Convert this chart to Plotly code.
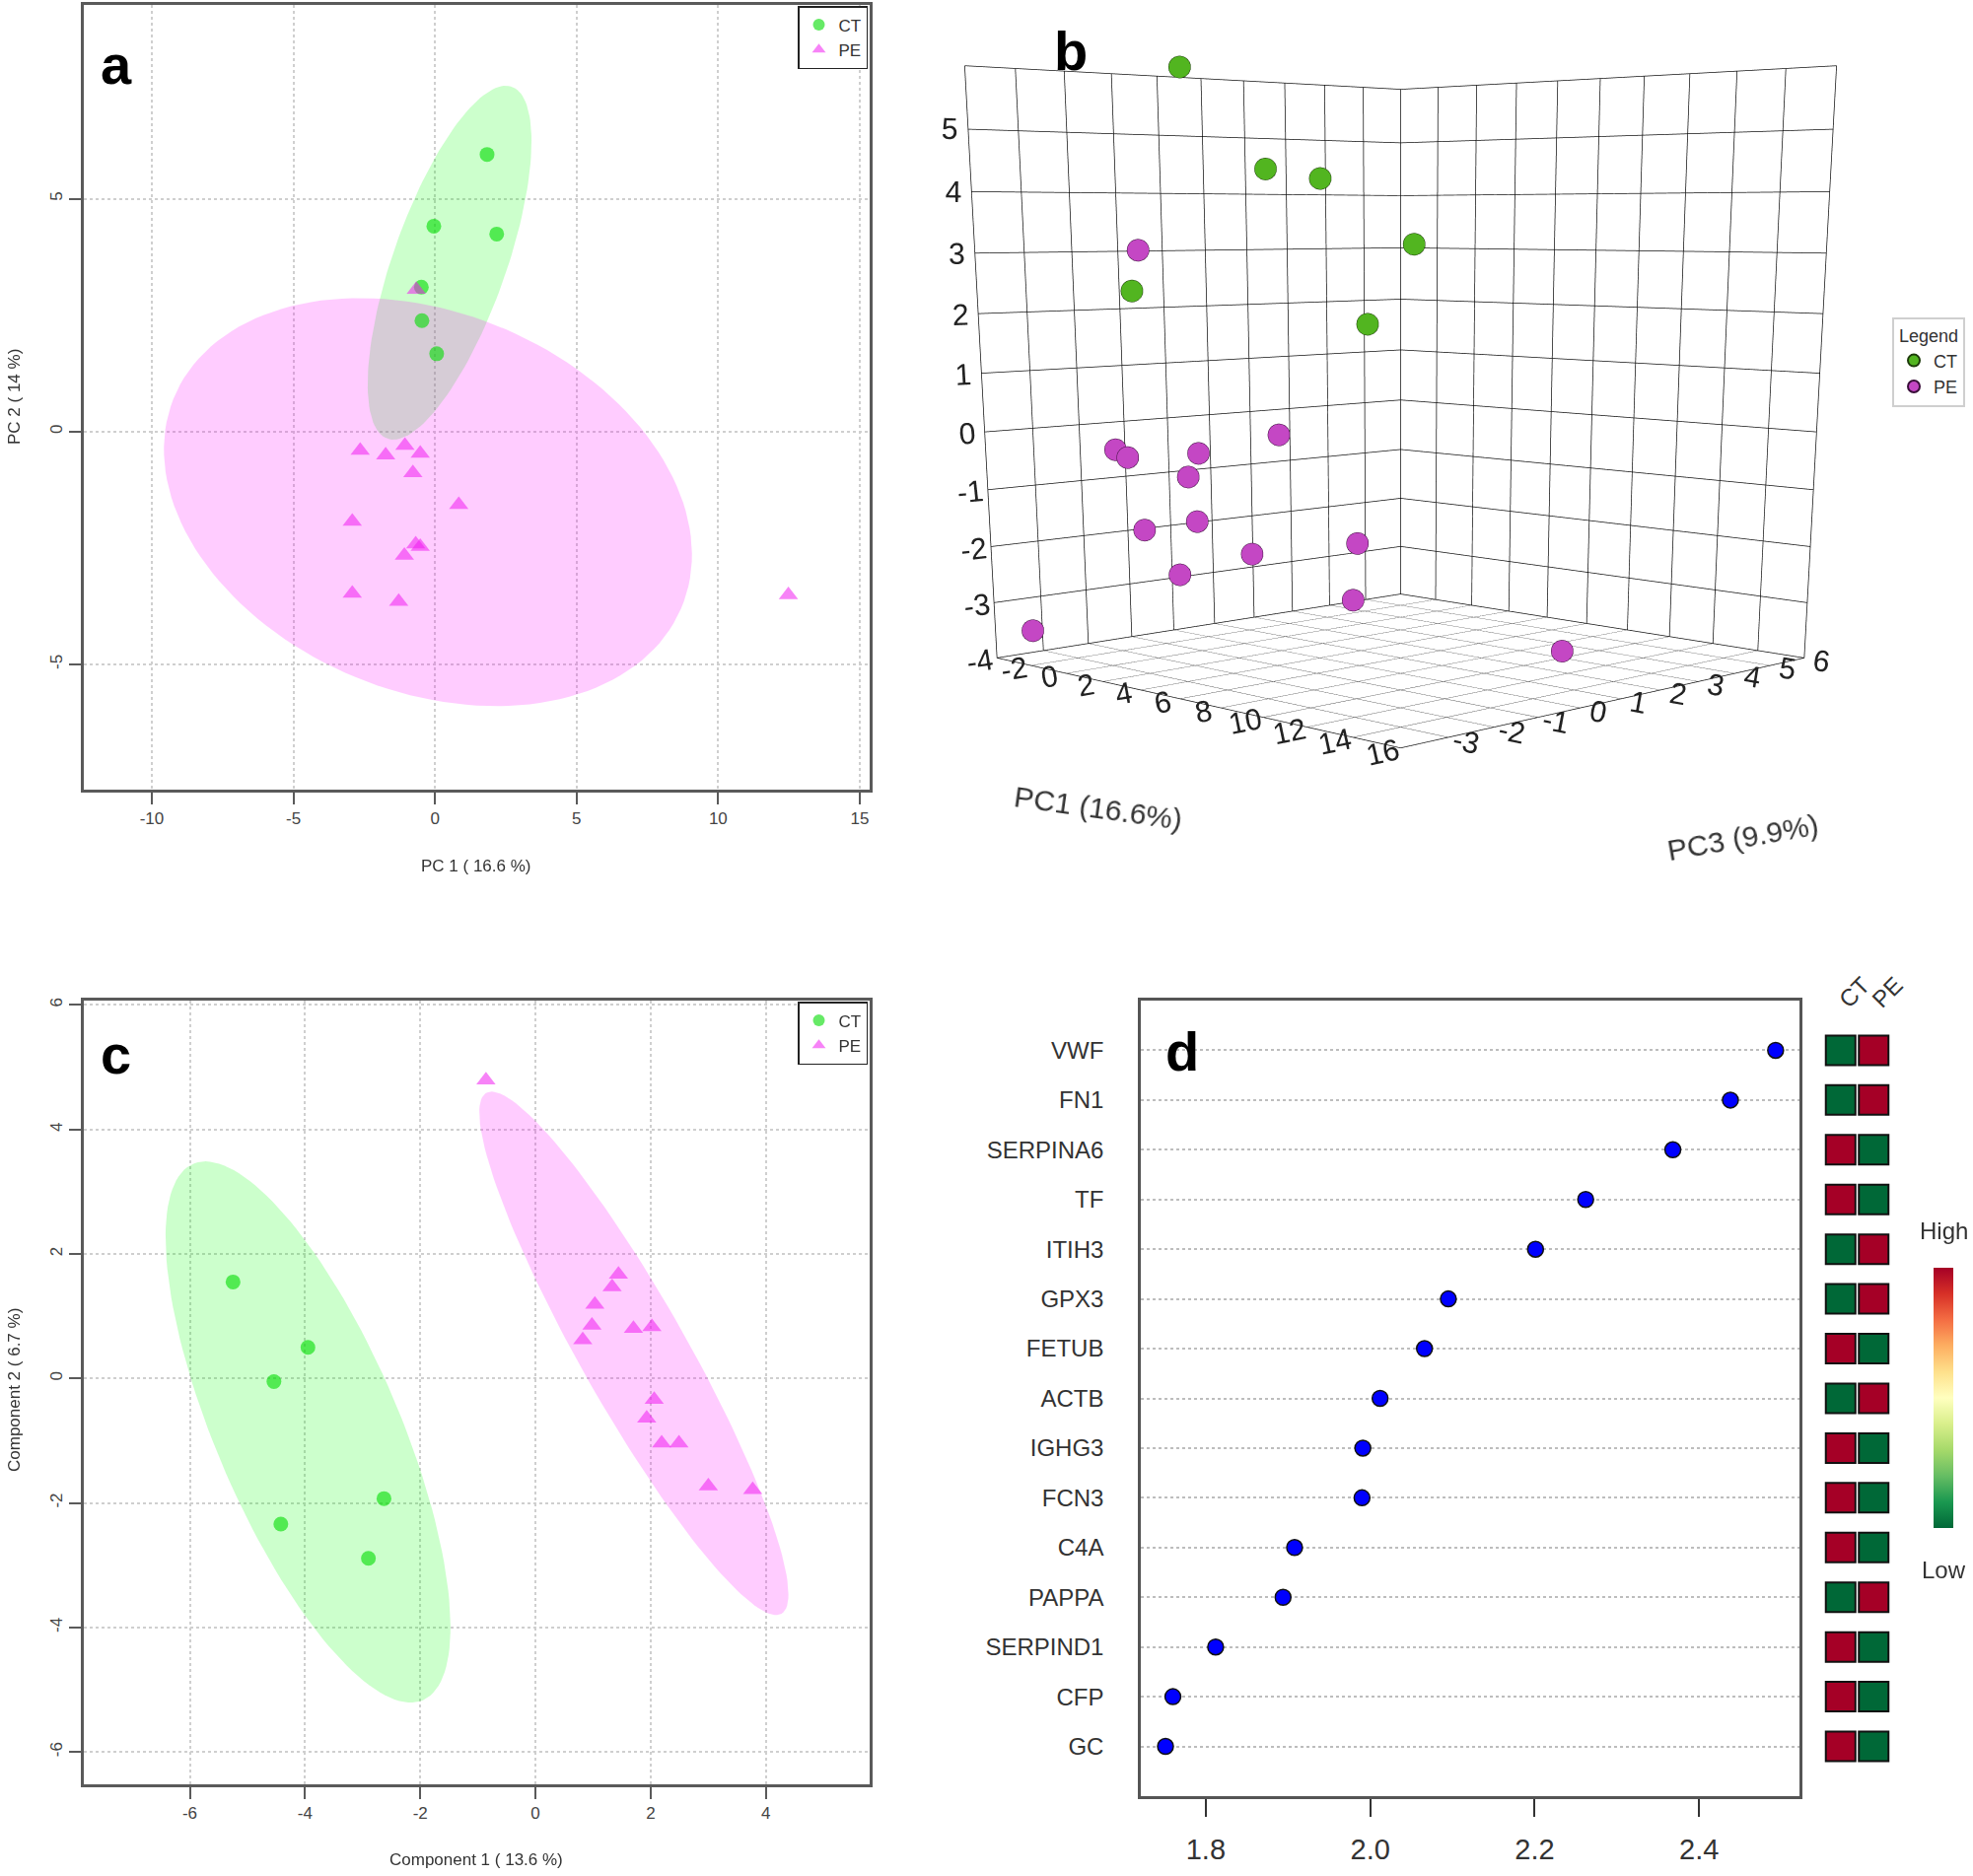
import numpy as np
import plotly.graph_objects as go
import plotly.express as px

W, H = 2001, 1903
FONT = "Liberation Sans, Arial, sans-serif"

# panel a: PCA scores, PC1 / PC2
a_ct_pc1 = [1.84, -0.04, 2.18, -0.48, -0.46, 0.06]
a_ct_pc2 = [5.95, 4.41, 4.24, 3.10, 2.38, 1.67]
a_pe_pc1 = [-0.66, -2.64, -1.74, -1.06, -0.52, -0.78, 0.84, -2.92, -0.68, -0.52, -1.08, -2.92, -1.28, 12.48]
a_pe_pc2 = [3.05, -0.41, -0.51, -0.30, -0.47, -0.89, -1.57, -1.93, -2.42, -2.47, -2.66, -3.48, -3.65, -3.51]

# panel b: PC3 of the same samples (same order as panel a)
b_ct_pc3 = [-1.92, 0.72, 0.97, 4.59, -2.13, 3.11]
b_pe_pc3 = [-1.89, -1.75, -1.84, 1.39, -0.75, -0.89, -1.39, -1.05, 0.52, 3.10, -1.02, -3.60, 3.34, 1.56]

# panel c: PLS-DA scores
c_ct_comp1 = [-5.25, -3.95, -4.54, -2.63, -4.42, -2.90]
c_ct_comp2 = [1.55, 0.50, -0.05, -1.93, -2.34, -2.89]
c_pe_comp1 = [-0.86, 1.44, 1.33, 1.03, 0.98, 0.82, 1.70, 2.02, 2.06, 1.93, 2.19, 2.49, 3.00, 3.77]
c_pe_comp2 = [4.79, 1.67, 1.47, 1.19, 0.85, 0.62, 0.80, 0.83, -0.34, -0.64, -1.04, -1.04, -1.73, -1.79]

# panel d: VIP scores, top to bottom
genes = ["VWF", "FN1", "SERPINA6", "TF", "ITIH3", "GPX3", "FETUB", "ACTB",
         "IGHG3", "FCN3", "C4A", "PAPPA", "SERPIND1", "CFP", "GC"]
vip = [2.493, 2.438, 2.368, 2.262, 2.201, 2.095, 2.066, 2.012,
       1.991, 1.990, 1.908, 1.894, 1.812, 1.760, 1.751]
ct_level = [0, 0, 1, 1, 0, 0, 1, 0, 1, 1, 1, 0, 1, 1, 1]
pe_level = [1, 1, 0, 0, 1, 1, 0, 1, 0, 0, 0, 1, 0, 0, 0]


def px_x(p):
    return p / W


def px_y(p):
    return 1 - p / H


def conf_ellipse(x, y, t=2.4477, n=150):
    x = np.asarray(x, float)
    y = np.asarray(y, float)
    vals, vecs = np.linalg.eigh(np.cov(x, y))
    ang = np.linspace(0, 2 * np.pi, n)
    circ = np.vstack([np.cos(ang), np.sin(ang)])
    pts = t * vecs @ (np.sqrt(vals)[:, None] * circ)
    return x.mean() + pts[0], y.mean() + pts[1]


fig = go.Figure()

ct_pt = "rgba(0,220,0,0.6)"
pe_pt = "rgba(240,30,240,0.55)"

for cts, ctv, pes, pev, xa, ya, lg in [
    (a_ct_pc1, a_ct_pc2, a_pe_pc1, a_pe_pc2, "x", "y", "legend"),
    (c_ct_comp1, c_ct_comp2, c_pe_comp1, c_pe_comp2, "x2", "y2", "legend2"),
]:
    ex, ey = conf_ellipse(cts, ctv)
    fig.add_trace(go.Scatter(x=ex, y=ey, mode="lines", fill="toself", line=dict(width=0),
                             fillcolor="rgba(0,255,0,0.2)", xaxis=xa, yaxis=ya,
                             showlegend=False, hoverinfo="skip"))
    ex, ey = conf_ellipse(pes, pev)
    fig.add_trace(go.Scatter(x=ex, y=ey, mode="lines", fill="toself", line=dict(width=0),
                             fillcolor="rgba(255,0,255,0.2)", xaxis=xa, yaxis=ya,
                             showlegend=False, hoverinfo="skip"))
    fig.add_trace(go.Scatter(x=cts, y=ctv, mode="markers", name="CT", legend=lg,
                             marker=dict(symbol="circle", size=15, color=ct_pt),
                             xaxis=xa, yaxis=ya))
    fig.add_trace(go.Scatter(x=pes, y=pev, mode="markers", name="PE", legend=lg,
                             marker=dict(symbol="triangle-up", size=17, color=pe_pt),
                             xaxis=xa, yaxis=ya))

# panel b: 3D scores
fig.add_trace(go.Scatter3d(x=a_ct_pc1, y=b_ct_pc3, z=a_ct_pc2, mode="markers", name="CT",
                           legend="legend3",
                           marker=dict(size=13, color="#52b520", line=dict(color="#1c3a0a", width=1.5))))
fig.add_trace(go.Scatter3d(x=a_pe_pc1, y=b_pe_pc3, z=a_pe_pc2, mode="markers", name="PE",
                           legend="legend3",
                           marker=dict(size=13, color="#c447c4", line=dict(color="#3a0f3a", width=1.5))))

# panel d: VIP dot plot
rows = list(range(len(genes), 0, -1))
fig.add_trace(go.Scatter(x=vip, y=rows, mode="markers", showlegend=False,
                         marker=dict(size=16, color="#0000ff", line=dict(color="#111", width=1.5)),
                         xaxis="x3", yaxis="y3"))

scale = px.colors.diverging.RdYlGn[::-1]
fig.add_trace(go.Scatter(
    x=[0] * len(genes) + [1] * len(genes), y=rows + rows, mode="markers", showlegend=False,
    marker=dict(symbol="square", size=30, color=ct_level + pe_level, cmin=0, cmax=1,
                colorscale=[[i / (len(scale) - 1), c] for i, c in enumerate(scale)],
                line=dict(color="#111", width=2), showscale=True,
                colorbar=dict(x=px_x(1971), xanchor="center", y=px_y(1418), yanchor="middle",
                              len=284 / H, thickness=20, showticklabels=False, ticks="",
                              outlinewidth=0)),
    xaxis="x4", yaxis="y4"))

frame = dict(showline=True, mirror=True, linecolor="#5a5a5a", linewidth=2.5, zeroline=False,
             ticks="outside", ticklen=12, tickwidth=2, tickcolor="#5a5a5a",
             tickfont=dict(size=17, color="#444", family=FONT))
grid = dict(showgrid=True, griddash="dot", gridcolor="#cfcfcf", gridwidth=1.5)


def labels(vals):
    return [str(v) for v in vals]


xa_ticks = [-10, -5, 0, 5, 10, 15]
ya_ticks = [-5, 0, 5]
xc_ticks = [-6, -4, -2, 0, 2, 4]
yc_ticks = [-6, -4, -2, 0, 2, 4, 6]

axis3d = dict(title=dict(text=""), showbackground=False, gridcolor="#111", gridwidth=1.5,
              zeroline=False, showline=True, linecolor="#111", linewidth=1.5,
              showspikes=False, tickfont=dict(size=19, color="#222", family=FONT))

fig.update_layout(
    width=W, height=H, margin=dict(l=0, r=0, t=0, b=0, autoexpand=False),
    paper_bgcolor="white", plot_bgcolor="white",
    font=dict(family=FONT, color="#333"),
    xaxis=dict(domain=[px_x(85), px_x(882)], range=[-12.4, 15.35], anchor="y",
               tickvals=xa_ticks, ticktext=labels(xa_ticks), **frame, **grid),
    yaxis=dict(domain=[px_y(801), px_y(5)], range=[-7.69, 9.16], anchor="x",
               tickvals=ya_ticks, ticktext=labels(ya_ticks), tickangle=-90, **frame, **grid),
    xaxis2=dict(domain=[px_x(85), px_x(882)], range=[-7.84, 5.80], anchor="y2",
                tickvals=xc_ticks, ticktext=labels(xc_ticks), **frame, **grid),
    yaxis2=dict(domain=[px_y(1810), px_y(1015)], range=[-6.52, 6.07], anchor="x2",
                tickvals=yc_ticks, ticktext=labels(yc_ticks), tickangle=-90, **frame, **grid),
    xaxis3=dict(domain=[px_x(1157), px_x(1825)], range=[1.721, 2.522], anchor="y3",
                tickvals=[1.8, 2.0, 2.2, 2.4], ticktext=["1.8", "2.0", "2.2", "2.4"],
                showline=True, mirror=True, linecolor="#555", linewidth=2.5, zeroline=False,
                ticks="outside", ticklen=18, tickwidth=2, tickcolor="#333", showgrid=False,
                tickfont=dict(size=29, color="#333"), ticklabelstandoff=8),
    yaxis3=dict(domain=[px_y(1822), px_y(1015)], range=[0, 16], anchor="x3",
                tickvals=rows, ticktext=genes, ticks="", showline=True, mirror=True,
                linecolor="#555", linewidth=2.5, zeroline=False,
                showgrid=True, griddash="dot", gridcolor="#bdbdbd", gridwidth=1.5,
                tickfont=dict(size=24, color="#333"), ticklabelstandoff=30),
    xaxis4=dict(domain=[px_x(1850), px_x(1917)], range=[-0.5, 1.5], anchor="y4",
                side="top", tickvals=[0, 1], ticktext=["CT", "PE"], tickangle=-45,
                showgrid=False, zeroline=False, showline=False, ticks="",
                tickfont=dict(size=24, color="#333")),
    yaxis4=dict(domain=[px_y(1822), px_y(1033)], range=[0, 15.643], anchor="x4", visible=False),
    scene=dict(
        domain=dict(x=[0.43, 0.99], y=[0.0, 1.0]),
        aspectmode="manual", aspectratio=dict(x=1, y=1, z=0.97),
        bgcolor="rgba(0,0,0,0)",
        xaxis=dict(range=[-4, 16], tickvals=list(range(-4, 17, 2)),
                   ticktext=[""] + labels(range(-2, 17, 2)), **axis3d),
        yaxis=dict(range=[-4, 6], tickvals=list(range(-4, 7)),
                   ticktext=[""] + labels(range(-3, 7)), **axis3d),
        zaxis=dict(range=[-4, 6], tickvals=list(range(-4, 7)),
                   ticktext=labels(range(-4, 6)) + [""], **axis3d),
        camera=dict(eye=dict(x=2.779, y=-2.779, z=0.25), center=dict(x=0, y=0, z=-1.0),
                    up=dict(x=0, y=0, z=1), projection=dict(type="perspective")),
    ),
    legend=dict(x=px_x(880), xanchor="right", y=px_y(6), yanchor="top", bgcolor="white",
                bordercolor="#222", borderwidth=1.5, font=dict(size=17, color="#333"),
                itemsizing="constant", tracegroupgap=0),
    legend2=dict(x=px_x(880), xanchor="right", y=px_y(1016), yanchor="top", bgcolor="white",
                 bordercolor="#222", borderwidth=1.5, font=dict(size=17, color="#333"),
                 itemsizing="constant", tracegroupgap=0),
    legend3=dict(x=px_x(1993), xanchor="right", y=px_y(322), yanchor="top", bgcolor="white",
                 bordercolor="#cfcfcf", borderwidth=2, font=dict(size=18, color="#333"),
                 title=dict(text="Legend", side="top center", font=dict(size=18)),
                 itemsizing="constant", tracegroupgap=0),
)

annots = [
    dict(text="a", x=118, y=65, size=56, bold=True),
    dict(text="b", x=1086, y=51, size=56, bold=True),
    dict(text="c", x=117, y=1069, size=56, bold=True),
    dict(text="d", x=1199, y=1066, size=56, bold=True),
    dict(text="PC 1 ( 16.6 %)", x=483, y=878, size=17),
    dict(text="PC 2 ( 14 %)", x=14, y=403, size=17, angle=-90),
    dict(text="Component 1 ( 13.6 %)", x=483, y=1886, size=17),
    dict(text="Component 2 ( 6.7 %)", x=14, y=1410, size=17, angle=-90),
    dict(text="PC1 (16.6%)", x=1114, y=819, size=30, angle=8),
    dict(text="PC3 (9.9%)", x=1767, y=849, size=30, angle=-10),
    dict(text="High", x=1971, y=1248, size=24),
    dict(text="Low", x=1971, y=1592, size=24),
]
for a in annots:
    txt = "<b>%s</b>" % a["text"] if a.get("bold") else a["text"]
    fig.add_annotation(text=txt, x=px_x(a["x"]), y=px_y(a["y"]), xref="paper", yref="paper",
                       xanchor="center", yanchor="middle", showarrow=False,
                       textangle=a.get("angle", 0),
                       font=dict(size=a["size"], color="#000" if a.get("bold") else "#333",
                                 family=FONT))

fig.write_html("out.html", config={"displayModeBar": False},
               post_script="document.body.style.margin='0';")
